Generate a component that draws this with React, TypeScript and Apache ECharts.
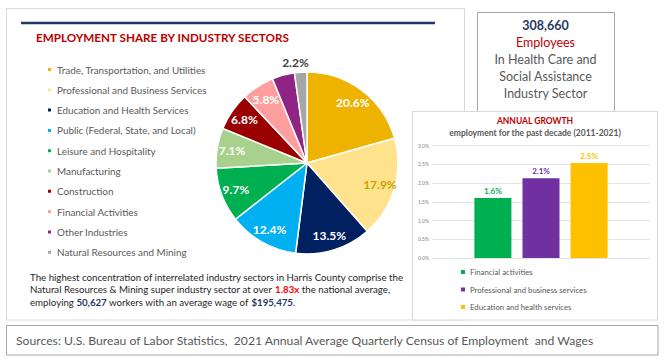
import React, { useEffect, useRef } from "react";
import * as echarts from "echarts";

const pieNames = [
  "Trade, Transportation, and Utilities",
  "Professional and Business Services",
  "Education and Health Services",
  "Public (Federal, State, and Local)",
  "Leisure and Hospitality",
  "Manufacturing",
  "Construction",
  "Financial Activities",
  "Other Industries",
  "Natural Resources and Mining",
];
const pieValues = [20.6, 17.9, 13.5, 12.4, 9.7, 7.1, 6.8, 5.8, 4.0, 2.2];
const pieColors = [
  "#EDB300", "#FFE38C", "#002060", "#00B0F0", "#00B050",
  "#A9D18E", "#9A0000", "#FF9E9E", "#8E2483", "#A6A6A6",
];
const pieLabelColors = [
  "#FFFFFF", "#C9A000", "#FFFFFF", "#FFFFFF", "#FFFFFF",
  "#FFFFFF", "#FFFFFF", "#FFFFFF", null, "#404040",
];

const barNames = [
  "Financial activities",
  "Professional and business services",
  "Education and health services",
];
const barValues = [1.6, 2.13, 2.54];
const barColors = ["#00B050", "#7030A0", "#FFC000"];
const yTicks = [0, 0.5, 1.0, 1.5, 2.0, 2.5, 3.0];

const FONT = "Lato, 'Noto Sans', sans-serif";

export default function App() {
  const ref = useRef<HTMLDivElement>(null);
  useEffect(() => {
    if (!ref.current) return;
    const chart = echarts.init(ref.current, null, { renderer: "svg" });

    const mainData = pieNames.map((name, i) => ({
      name,
      value: pieValues[i],
      itemStyle: { color: pieColors[i] },
      label:
        i === pieNames.length - 1
          ? {
              show: true,
              position: "outside" as const,
              color: pieLabelColors[i],
              fontFamily: FONT,
              fontWeight: "bold" as const,
              fontSize: 12,
              formatter: (p: any) => p.value.toFixed(1) + "%",
            }
          : { show: false },
    }));

    const labelData = pieNames.map((name, i) => ({
      name,
      value: pieValues[i],
      label: {
        show: pieLabelColors[i] !== null && i !== pieNames.length - 1,
        color: pieLabelColors[i] || "#fff",
      },
    }));

    const barSeries = barNames.map((name, i) => ({
      type: "bar" as const,
      name,
      data: [barValues[i]],
      barWidth: 37,
      barGap: "30%",
      itemStyle: { color: barColors[i] },
      label: {
        show: true,
        position: "top" as const,
        distance: 3,
        color: barColors[i],
        fontFamily: FONT,
        fontWeight: "bold" as const,
        fontSize: 8,
        formatter: (p: any) => p.value.toFixed(1) + "%",
      },
      xAxisIndex: 0,
      yAxisIndex: 0,
    }));

    chart.setOption({
      animation: false,
      backgroundColor: "#FFFFFF",
      legend: [
        {
          data: pieNames,
          orient: "vertical",
          left: 46,
          top: 63.5,
          padding: 0,
          itemWidth: 5,
          itemHeight: 5,
          itemGap: 8.3,
          icon: "rect",
          selectedMode: false,
          textStyle: {
            fontFamily: FONT,
            fontSize: 9.9,
            lineHeight: 12,
            color: "#595959",
          },
        },
        {
          data: barNames,
          orient: "vertical",
          left: 461,
          top: 267.5,
          padding: 0,
          itemWidth: 4,
          itemHeight: 4,
          itemGap: 8.5,
          icon: "rect",
          selectedMode: false,
          textStyle: {
            fontFamily: FONT,
            fontSize: 7.8,
            lineHeight: 9,
            color: "#595959",
          },
        },
      ],
      grid: {
        left: 432,
        right: 15,
        top: 145.7,
        bottom: 104,
        containLabel: false,
      },
      xAxis: {
        type: "category",
        data: ["growth"],
        axisLine: { show: false },
        axisTick: { show: false },
        axisLabel: { show: false },
      },
      yAxis: {
        type: "value",
        min: yTicks[0],
        max: yTicks[yTicks.length - 1],
        interval: 0.5,
        axisLine: { show: false },
        axisTick: { show: false },
        axisLabel: {
          fontFamily: FONT,
          fontSize: 5,
          color: "#7F7F7F",
          margin: 3,
          formatter: (v: number) => v.toFixed(1) + "%",
        },
        splitLine: { lineStyle: { color: "#E3E3E3", width: 1 } },
      },
      graphic: [
        {
          type: "rect",
          shape: { x: 6.5, y: 8.5, width: 458, height: 311.5 },
          style: { fill: "#FFFFFF", stroke: "#D9D9D9", lineWidth: 1 },
          z: -10,
        },
        {
          type: "line",
          shape: { x1: 21, y1: 23, x2: 435, y2: 23 },
          style: { stroke: "#1F3864", lineWidth: 2.5 },
        },
        {
          type: "text",
          x: 36,
          y: 37,
          style: {
            text: "EMPLOYMENT SHARE BY INDUSTRY SECTORS",
            fontFamily: FONT,
            fontWeight: "bold",
            fontSize: 11.7,
            fill: "#C00000",
            align: "left",
            verticalAlign: "middle",
            textAlign: "left",
            textVerticalAlign: "middle",
          },
        },
        {
          type: "rect",
          shape: { x: 477.5, y: 12.5, width: 137, height: 100 },
          style: { fill: "#FFFFFF", stroke: "#A6A6A6", lineWidth: 1 },
        },
        ...[
          { t: "308,660", c: "#1F3864", w: "bold", y: 25 },
          { t: "Employees", c: "#C00000", w: "normal", y: 42 },
          { t: "In Health Care and", c: "#595959", w: "normal", y: 59 },
          { t: "Social Assistance", c: "#595959", w: "normal", y: 76 },
          { t: "Industry Sector", c: "#595959", w: "normal", y: 93 },
        ].map((o) => ({
          type: "text",
          x: 545.5,
          y: o.y,
          style: {
            text: o.t,
            fontFamily: FONT,
            fontWeight: o.w,
            fontSize: 12.5,
            fill: o.c,
            align: "center",
            verticalAlign: "middle",
            textAlign: "center",
            textVerticalAlign: "middle",
          },
        })),
        {
          type: "rect",
          shape: { x: 412.5, y: 111.5, width: 245, height: 208.5 },
          style: { fill: "#FFFFFF", stroke: "#D9D9D9", lineWidth: 1 },
        },
        {
          type: "text",
          x: 535,
          y: 121,
          style: {
            text: "ANNUAL GROWTH",
            fontFamily: FONT,
            fontWeight: "bold",
            fontSize: 8.5,
            fill: "#C00000",
            align: "center",
            verticalAlign: "middle",
            textAlign: "center",
            textVerticalAlign: "middle",
          },
        },
        {
          type: "text",
          x: 535,
          y: 133,
          style: {
            text: "employment for the past decade (2011-2021)",
            fontFamily: FONT,
            fontWeight: "bold",
            fontSize: 8.5,
            fill: "#595959",
            align: "center",
            verticalAlign: "middle",
            textAlign: "center",
            textVerticalAlign: "middle",
          },
        },
        {
          type: "text",
          x: 30,
          y: 270.5,
          style: {
            text:
              "The highest concentration of interrelated industry sectors in Harris County comprise the\n" +
              "Natural Resources & Mining super industry sector at over {r|1.83x} the national average,\n" +
              "employing {b|50,627} workers with an average wage of {b|$195,475}.",
            fontFamily: FONT,
            fontSize: 9.7,
            lineHeight: 12.6,
            fill: "#262626",
            align: "left",
            verticalAlign: "top",
            textAlign: "left",
            textVerticalAlign: "top",
            rich: {
              r: { fill: "#FF0000", fontWeight: "bold", fontFamily: FONT, fontSize: 9.7, lineHeight: 12.6 },
              b: { fill: "#1F3864", fontWeight: "bold", fontFamily: FONT, fontSize: 9.7, lineHeight: 12.6 },
            },
          },
        },
        {
          type: "rect",
          shape: { x: 6.5, y: 325.5, width: 651.5, height: 29.5 },
          style: { fill: "#FFFFFF", stroke: "#A6A6A6", lineWidth: 1 },
        },
        {
          type: "text",
          x: 16,
          y: 340,
          style: {
            text:
              "Sources: U.S. Bureau of Labor Statistics,  2021 Annual Average Quarterly Census of Employment  and Wages",
            fontFamily: FONT,
            fontSize: 12.2,
            fill: "#595959",
            align: "left",
            verticalAlign: "middle",
            textAlign: "left",
            textVerticalAlign: "middle",
          },
        },
      ],
      series: [
        {
          type: "pie",
          name: "share",
          center: [307, 163],
          radius: 91,
          startAngle: 90,
          clockwise: true,
          avoidLabelOverlap: false,
          silent: true,
          itemStyle: { borderColor: "#FFFFFF", borderWidth: 1.5 },
          labelLine: { show: false, length: 4, length2: 0 },
          labelLayout: (p: any) =>
            p.dataIndex === pieNames.length - 1
              ? { align: "center", verticalAlign: "bottom" }
              : {},
          data: mainData,
          z: 3,
        },
        {
          type: "pie",
          name: "labels",
          center: [307, 163],
          radius: [0, 146],
          startAngle: 90,
          clockwise: true,
          silent: true,
          avoidLabelOverlap: false,
          itemStyle: { color: "rgba(0,0,0,0)", borderWidth: 0 },
          emphasis: { disabled: true },
          labelLine: { show: false },
          label: {
            position: "inside",
            fontFamily: FONT,
            fontWeight: "bold",
            fontSize: 12,
            formatter: (p: any) => p.value.toFixed(1) + "%",
          },
          data: labelData,
          z: 4,
        },
        ...barSeries,
      ],
    });
    return () => chart.dispose();
  }, []);
  return (
    <div
      ref={ref}
      style={{ position: "absolute", left: 0, top: 0, width: 665, height: 362 }}
    />
  );
}
